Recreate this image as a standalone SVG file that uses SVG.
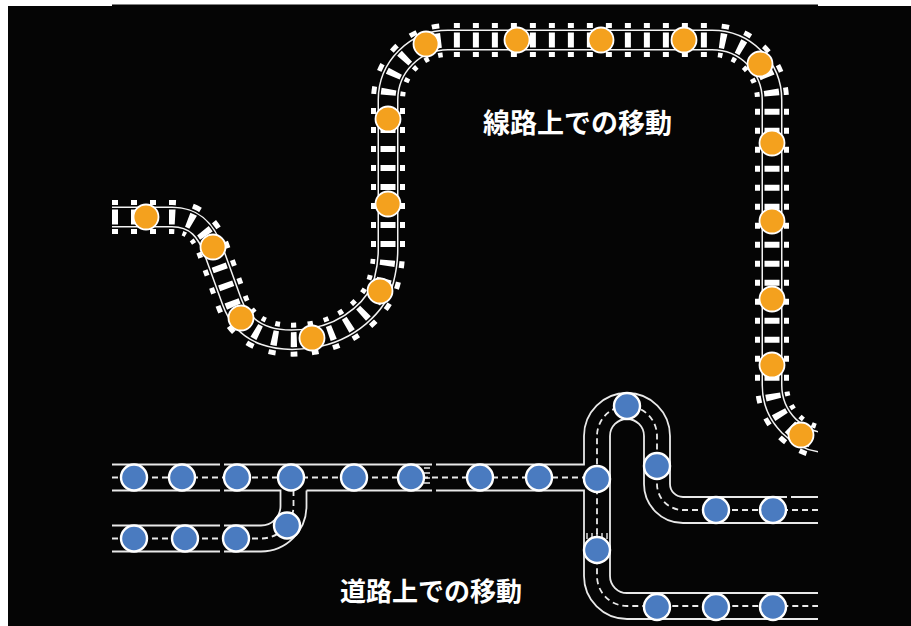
<svg xmlns="http://www.w3.org/2000/svg" width="911" height="626" viewBox="0 0 911 626">
  <defs>
    <clipPath id="panel">
      <rect x="112" y="0" width="706" height="626"/>
    </clipPath>
    <!-- centre line of the railway -->
    <path id="rail-line" d="M112,217 H172 C196,217 207,232 214,252 L232,302 C245,338 280,343 312,338 C350,332 378,305 384,280 C387,268 388,262 388,250 V100 A60,60 0 0 1 448,40 H712 A60,60 0 0 1 772,100 V385 A58,58 0 0 0 830,443"/>
  </defs>
  <style>
    .tie-outer { fill: none; stroke: #ffffff; stroke-width: 34; stroke-dasharray: 6 13; }
    .tie-inner { fill: none; stroke: #ffffff; stroke-width: 15; stroke-dasharray: 6 13; }
    .gap-outer { fill: none; stroke: #050505; stroke-width: 24; }
    .rail      { fill: none; stroke: #f2f2f2; stroke-width: 21; }
    .gap-inner { fill: none; stroke: #050505; stroke-width: 18; }
    .edge { fill: none; stroke: #e9e9e9; stroke-width: 1.8; }
    .lane { fill: none; stroke: #e9e9e9; stroke-width: 1.8; stroke-dasharray: 6 4; }
    .tick { fill: none; stroke: #e9e9e9; stroke-width: 1.4; }
    .train { fill: #f4a11e; stroke: #ffffff; stroke-width: 1.8; }
    .car { fill: #4a7bc0; stroke: #ffffff; stroke-width: 2.4; }
    .label { fill: #ffffff; font-family: "Noto Sans CJK JP", "Noto Sans CJK SC", sans-serif; font-weight: 700; }
  </style>

  <!-- canvas -->
  <rect x="0" y="0" width="911" height="626" fill="#ffffff"/>
  <rect x="8" y="6" width="903" height="620" fill="#050505"/>
  <rect x="112" y="4.5" width="706" height="2" fill="#050505"/>

  <g id="connectors" clip-path="url(#panel)">
    <!-- railway: ties, rails and the gaps between them -->
    <g id="railway">
      <use href="#rail-line" class="tie-outer"/>
      <use href="#rail-line" class="gap-outer"/>
      <use href="#rail-line" class="rail"/>
      <use href="#rail-line" class="gap-inner"/>
      <use href="#rail-line" class="tie-inner"/>
    </g>
    <!-- roads: kerb lines and dashed centre lines -->
    <g id="roads">
      <path class="edge" d="M112,464.5 H220 M224,464.5 H432 M436,464.5 H584 V436 A43,43 0 0 1 670,436 V484 A13,13 0 0 0 683,497 H787 M791,497 H818"/>
      <path class="edge" d="M112,490.5 H220 M224,490.5 H280.5 V506 A19.5,19.5 0 0 1 261,525.5 H224 M220,525.5 H112"/>
      <path class="edge" d="M306.5,490.5 V506 A45.5,45.5 0 0 1 261,551.5 H224 M220,551.5 H112"/>
      <path class="edge" d="M306.5,490.5 H432 M436,490.5 H584 V576 A43,43 0 0 0 627,619 H818"/>
      <path class="edge" d="M818,593 H627 A17,17 0 0 1 610,576 V436 A17,17 0 0 1 644,436 V484 A39,39 0 0 0 683,523 H818"/>
      <path class="lane" d="M112,477.5 H597"/>
      <path class="lane" d="M112,538.5 H261 A32.5,32.5 0 0 0 293.5,506 V477.5"/>
      <path class="lane" d="M818,510 H683 A26,26 0 0 1 657,484 V436 A30,30 0 0 0 597,436 V576 A30,30 0 0 0 627,606 H818"/>
      <path class="tick" d="M424,468 H430 M424,473 H430 M424,478 H430 M424,483 H430"/>
      <path class="tick" d="M587,533 V539 M592,533 V539 M597,533 V539 M602,533 V539 M607,533 V539"/>
    </g>
  </g>

  <!-- trains on the railway -->
  <g id="train-1"><circle class="train" cx="146" cy="217" r="12.5"/></g>
  <g id="train-2"><circle class="train" cx="213" cy="247" r="12.5"/></g>
  <g id="train-3"><circle class="train" cx="241" cy="318" r="12.5"/></g>
  <g id="train-4"><circle class="train" cx="312" cy="338" r="12.5"/></g>
  <g id="train-5"><circle class="train" cx="380" cy="291" r="12.5"/></g>
  <g id="train-6"><circle class="train" cx="388" cy="204" r="12.5"/></g>
  <g id="train-7"><circle class="train" cx="388" cy="119" r="12.5"/></g>
  <g id="train-8"><circle class="train" cx="426" cy="44" r="12.5"/></g>
  <g id="train-9"><circle class="train" cx="517" cy="40" r="12.5"/></g>
  <g id="train-10"><circle class="train" cx="601" cy="40" r="12.5"/></g>
  <g id="train-11"><circle class="train" cx="684" cy="40" r="12.5"/></g>
  <g id="train-12"><circle class="train" cx="760" cy="64" r="12.5"/></g>
  <g id="train-13"><circle class="train" cx="772" cy="143" r="12.5"/></g>
  <g id="train-14"><circle class="train" cx="772" cy="221" r="12.5"/></g>
  <g id="train-15"><circle class="train" cx="772" cy="299" r="12.5"/></g>
  <g id="train-16"><circle class="train" cx="772" cy="365" r="12.5"/></g>
  <g id="train-17"><circle class="train" cx="801" cy="435" r="12.5"/></g>

  <!-- cars on the roads -->
  <g id="car-1"><circle class="car" cx="134" cy="477.5" r="13"/></g>
  <g id="car-2"><circle class="car" cx="182" cy="477.5" r="13"/></g>
  <g id="car-3"><circle class="car" cx="237" cy="477.5" r="13"/></g>
  <g id="car-4"><circle class="car" cx="291" cy="477.5" r="13"/></g>
  <g id="car-5"><circle class="car" cx="354" cy="477.5" r="13"/></g>
  <g id="car-6"><circle class="car" cx="411" cy="477.5" r="13"/></g>
  <g id="car-7"><circle class="car" cx="480" cy="477.5" r="13"/></g>
  <g id="car-8"><circle class="car" cx="539" cy="477.5" r="13"/></g>
  <g id="car-9"><circle class="car" cx="597" cy="479" r="13"/></g>
  <g id="car-10"><circle class="car" cx="134" cy="538.5" r="13"/></g>
  <g id="car-11"><circle class="car" cx="185" cy="538.5" r="13"/></g>
  <g id="car-12"><circle class="car" cx="236" cy="538.5" r="13"/></g>
  <g id="car-13"><circle class="car" cx="287" cy="525.5" r="13"/></g>
  <g id="car-14"><circle class="car" cx="627" cy="406" r="13"/></g>
  <g id="car-15"><circle class="car" cx="657" cy="466" r="13"/></g>
  <g id="car-16"><circle class="car" cx="716" cy="510" r="13"/></g>
  <g id="car-17"><circle class="car" cx="773" cy="510" r="13"/></g>
  <g id="car-18"><circle class="car" cx="597" cy="550" r="13"/></g>
  <g id="car-19"><circle class="car" cx="657" cy="607" r="13"/></g>
  <g id="car-20"><circle class="car" cx="716" cy="607" r="13"/></g>
  <g id="car-21"><circle class="car" cx="773" cy="607" r="13"/></g>

  <text id="label-rail" class="label" x="483" y="133" font-size="27">線路上での移動</text>
  <text id="label-road" class="label" x="340" y="601" font-size="26">道路上での移動</text>
</svg>
